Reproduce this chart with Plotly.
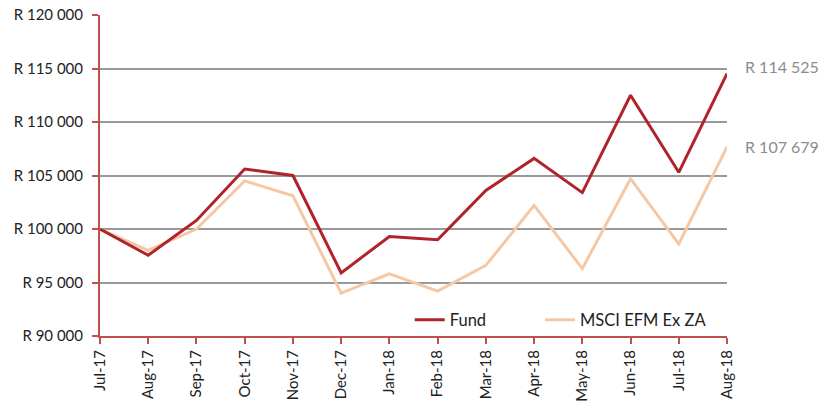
import plotly.graph_objects as go

months = ["Jul-17", "Aug-17", "Sep-17", "Oct-17", "Nov-17", "Dec-17", "Jan-18",
          "Feb-18", "Mar-18", "Apr-18", "May-18", "Jun-18", "Jul-18", "Aug-18"]
fund = [100000, 97550, 100800, 105600, 105000, 95900, 99300,
        99000, 103600, 106600, 103400, 112500, 105300, 114525]
msci = [100000, 98000, 100000, 104500, 103100, 94000, 95800,
        94200, 96600, 102200, 96300, 104700, 98600, 107679]
y_ticks = [90000, 95000, 100000, 105000, 110000, 115000, 120000]


def rand(v):
    s = f"{v:,}".replace(",", " ")
    return "R " + s


x_idx = list(range(len(months)))
axis_red = "#C0504D"
fund_col = "#B0232A"
msci_col = "#F5C8A5"
font_fam = "Lato, 'Open Sans', sans-serif"

fig = go.Figure()
fig.add_trace(go.Scatter(x=x_idx, y=msci, mode="lines", name="MSCI EFM Ex ZA",
                         line=dict(color=msci_col, width=3), legend="legend2"))
fig.add_trace(go.Scatter(x=x_idx, y=fund, mode="lines", name="Fund",
                         line=dict(color=fund_col, width=3), legend="legend"))

leg_common = dict(orientation="h", xanchor="left", y=0.05, yanchor="middle",
                  bgcolor="rgba(0,0,0,0)", font=dict(size=16.5, color="#222"))

fig.update_layout(
    template="none",
    width=822, height=406,
    margin=dict(l=100, r=95, t=15, b=70, autoexpand=False),
    paper_bgcolor="white", plot_bgcolor="white",
    font=dict(family=font_fam, size=13, color="#222"),
    showlegend=True,
    legend=dict(x=0.494, **leg_common),
    legend2=dict(x=0.7018, **leg_common),
    xaxis=dict(range=[0, len(months) - 1], tickmode="array", tickvals=x_idx,
               ticktext=months, tickangle=-90, showgrid=False, zeroline=False,
               automargin=False,
               showline=True, linecolor=axis_red, linewidth=2,
               ticks="outside", ticklen=6, tickcolor=axis_red, tickwidth=2,
               tickfont=dict(size=15, color="#222")),
    yaxis=dict(range=[90000, 120000], tickmode="array", tickvals=y_ticks,
               ticktext=[rand(v) for v in y_ticks], showgrid=True,
               gridcolor="#999999", gridwidth=2, zeroline=False,
               automargin=False, ticklabelstandoff=6,
               showline=True, linecolor=axis_red, linewidth=2,
               ticks="outside", ticklen=6, tickcolor=axis_red, tickwidth=2,
               tickfont=dict(size=15, color="#222")),
)

fig.add_annotation(x=x_idx[-1], y=fund[-1], text=rand(fund[-1]), xref="x", yref="y",
                   showarrow=False, xanchor="left", xshift=16, yshift=7,
                   font=dict(size=16, color="#8C8C8C", family=font_fam))
fig.add_annotation(x=x_idx[-1], y=msci[-1], text=rand(msci[-1]), xref="x", yref="y",
                   showarrow=False, xanchor="left", xshift=16, yshift=0,
                   font=dict(size=16, color="#8C8C8C", family=font_fam))

fig.write_html("out.html",
               config={"displayModeBar": False},
               post_script="document.body.style.margin='0';"
                           "document.body.style.overflow='hidden';")
